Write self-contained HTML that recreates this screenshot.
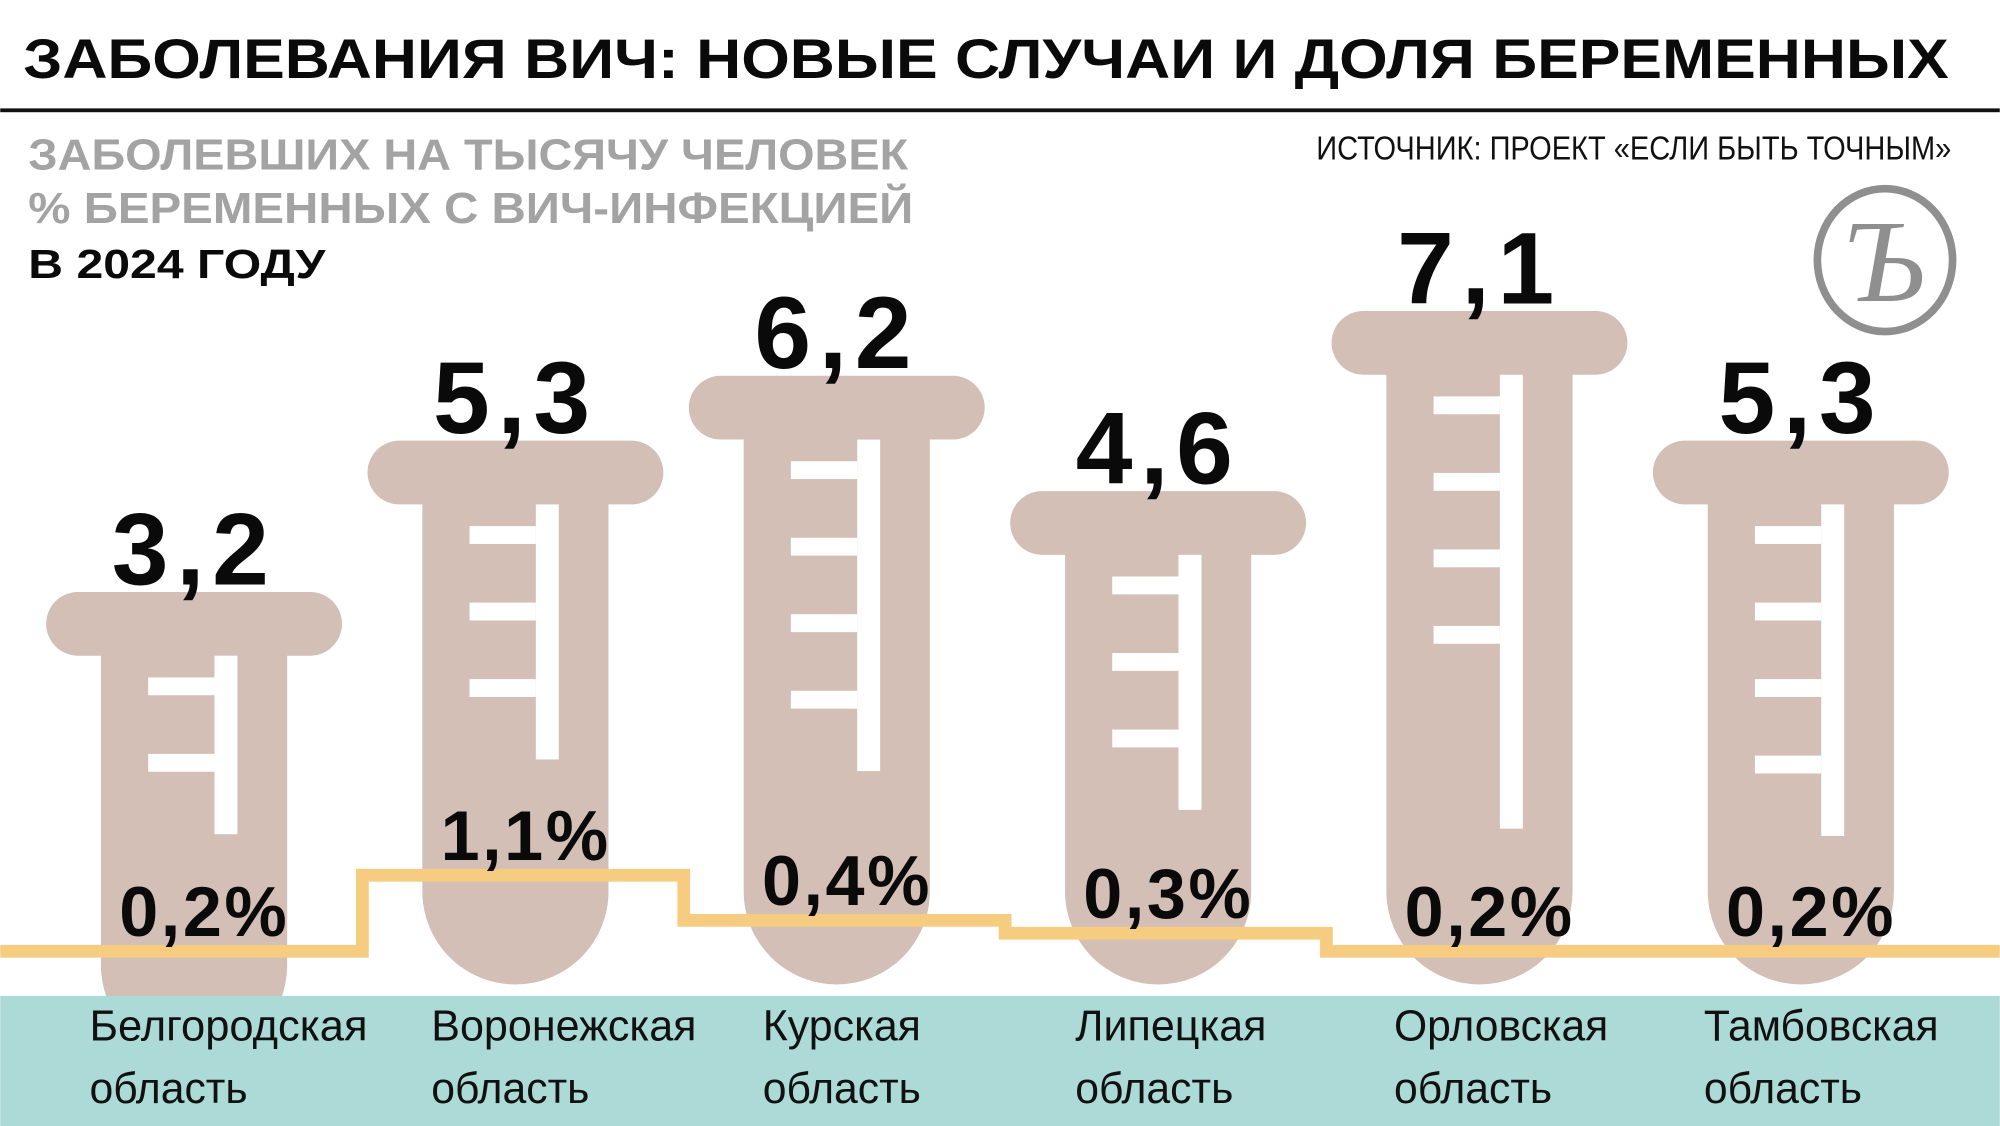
<!DOCTYPE html>
<html><head><meta charset="utf-8"><style>
html,body{margin:0;padding:0;background:#fff;}
svg{display:block;}
.t{font-family:"Liberation Sans","Noto Sans CJK SC",sans-serif;}
.n{font-family:"Liberation Sans Narrow","Liberation Sans",sans-serif;}
</style></head><body>
<svg id="chart" width="2000" height="1126" viewBox="0 0 1568 883" xmlns="http://www.w3.org/2000/svg">
<text class="t" x="18" y="61" font-size="44" font-weight="bold" fill="#0a0a0a" textLength="1510" lengthAdjust="spacingAndGlyphs">ЗАБОЛЕВАНИЯ ВИЧ: НОВЫЕ СЛУЧАИ И ДОЛЯ БЕРЕМЕННЫХ</text>
<rect x="0" y="85" width="1568" height="3" fill="#111"/>
<text class="t" x="22" y="133" font-size="34" font-weight="bold" fill="#a3a3a3" textLength="690" lengthAdjust="spacingAndGlyphs">ЗАБОЛЕВШИХ НА ТЫСЯЧУ ЧЕЛОВЕК</text>
<text class="t" x="22" y="175" font-size="34" font-weight="bold" fill="#a3a3a3" textLength="694" lengthAdjust="spacingAndGlyphs">% БЕРЕМЕННЫХ С ВИЧ-ИНФЕКЦИЕЙ</text>
<text class="t" x="22" y="218" font-size="32" font-weight="bold" fill="#0a0a0a" textLength="233" lengthAdjust="spacingAndGlyphs">В 2024 ГОДУ</text>
<text class="n" x="1032" y="125" font-size="26" fill="#111" textLength="498" lengthAdjust="spacingAndGlyphs">ИСТОЧНИК: ПРОЕКТ «ЕСЛИ БЫТЬ ТОЧНЫМ»</text>
<g>
<ellipse cx="1478" cy="204" rx="53" ry="56" fill="none" stroke="#8f8f8f" stroke-width="6"/>
<text x="1478" y="236" text-anchor="middle" font-family="Liberation Serif,serif" font-style="italic" font-size="92" fill="#8f8f8f">Ъ</text>
</g>
<g id="tubes"></g>
<rect x="0" y="781" width="1568" height="102" fill="#acdad6"/>
<g id="line"></g>
<g id="labels"></g>
</svg>
<script>
const regions = ["Белгородская", "Воронежская", "Курская", "Липецкая", "Орловская", "Тамбовская"];
const ratePerThousand = [3.2, 5.3, 6.2, 4.6, 7.1, 5.3];
const ratePrinted = ["3,2", "5,3", "6,2", "4,6", "7,1", "5,3"];
const pregnantPct = [0.2, 1.1, 0.4, 0.3, 0.2, 0.2];
const pctPrinted = ["0,2%", "1,1%", "0,4%", "0,3%", "0,2%", "0,2%"];
const tickCounts = [2, 3, 4, 3, 4, 4];

const NS = "http://www.w3.org/2000/svg";
const xC = i => 152 + i * 252;
const yCap = v => 645 - 56.5 * v;
const yPct = v => 746 - 35 * Math.log(v / 0.2);
const TUBE = "#d3bfb6";
function mk(tag, attrs, parent) {
  const e = document.createElementNS(NS, tag);
  for (const k in attrs) e.setAttribute(k, attrs[k]);
  parent.appendChild(e); return e;
}
const tubes = document.getElementById("tubes");
regions.forEach((r, i) => {
  const cx = xC(i), top = yCap(ratePerThousand[i]);
  const g = mk("g", {}, tubes);
  
  
  const bottom = i === 0 ? 830 : 772;
  mk("path", {d: `M${cx-73},${top+40} L${cx-73},${bottom-73} A73,73 0 0 0 ${cx+73},${bottom-73} L${cx+73},${top+40} Z`, fill: TUBE}, g);
  mk("rect", {x: cx-116, y: top, width: 232, height: 50, rx: 25, fill: TUBE}, g);
  const barTop = top + 50;
  const n = tickCounts[i];
  const barLen = 60 * n + 20 + (n >= 4 && ratePerThousand[i] > 7 ? 96 : 0);
  mk("rect", {x: cx+16, y: barTop, width: 18, height: barLen, fill: "#fff"}, g);
  for (let k = 0; k < n; k++) {
    mk("rect", {x: cx-36, y: barTop + 17 + 60 * k, width: 52, height: 14, fill: "#fff"}, g);
  }
  const vt = mk("text", {x: cx, y: top - 6, "text-anchor": "middle", "font-size": 80, "font-weight": "bold", "letter-spacing": 6, fill: "#0a0a0a", class: "t"}, tubes);
  vt.textContent = ratePrinted[i];
  
  
});
let d = "M0," + yPct(pregnantPct[0]);
pregnantPct.forEach((v, i) => {
  const y = yPct(v);
  const x0 = i === 0 ? 0 : xC(i) - 120;
  const x1 = i === pregnantPct.length - 1 ? 1568 : xC(i + 1) - 120;
  d += ` L${x0},${y} L${x1},${y}`;
});
const line = document.getElementById("line");
const p = mk("path", {d: d, fill: "none", stroke: "#f5cc80", "stroke-width": 10}, line);


const labels = document.getElementById("labels");
pregnantPct.forEach((v, i) => {
  const t = mk("text", {x: xC(i) + 8, y: yPct(v) - 12, "text-anchor": "middle", "font-size": 55, "font-weight": "bold", "letter-spacing": 2, fill: "#0a0a0a", class: "t"}, labels);
  t.textContent = pctPrinted[i];
  
  
});
const lx = [70, 338, 598, 843, 1093, 1336];
const lw = [218, 208, 124, 150, 168, 184];
regions.forEach((r, i) => {
  const a = mk("text", {x: lx[i], y: 816, "font-size": 34, fill: "#111", class: "n", textLength: lw[i], lengthAdjust: "spacingAndGlyphs"}, labels);
  a.textContent = r;
  
  
  const b = mk("text", {x: lx[i], y: 865, "font-size": 34, fill: "#111", class: "n", textLength: 124, lengthAdjust: "spacingAndGlyphs"}, labels);
  b.textContent = "область";
  
  
});
</script>
</body></html>
